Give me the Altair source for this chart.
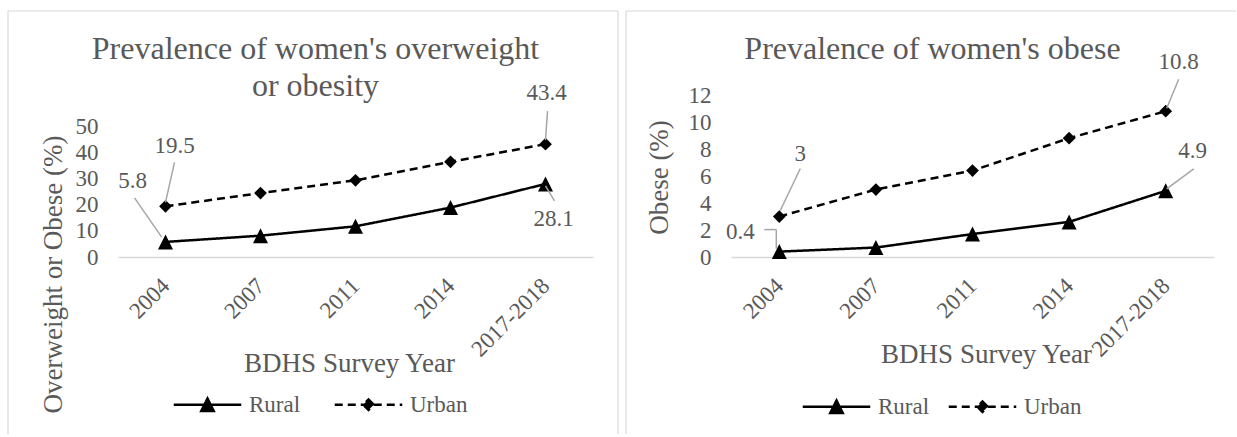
import altair as alt
import pandas as pd

# ---------------- data ----------------
years = ["2004", "2007", "2011", "2014", "2017-2018"]
series = ["Rural", "Urban"]
ow_rural = [5.8, 8.2, 11.8, 19.0, 28.1]
ow_urban = [19.5, 24.6, 29.5, 36.6, 43.4]
ob_rural = [0.4, 0.7, 1.7, 2.6, 4.9]
ob_urban = [3.0, 5.0, 6.4, 8.8, 10.8]

FONT = "Liberation Serif"
GRAY = "#595959"
LIGHT = "#d9d9d9"
LEADER = "#a6a6a6"

# chart markers
TRI = "M0,-1L1,1L-1,1Z"
DIA = "M0,-0.85L0.85,0L0,0.85L-0.85,0Z"
# legend symbols: line segment + marker
TRI_L = "M-4.5,0H4.5M0,-0.83L0.83,0.83L-0.83,0.83Z"
DIA_L = "M-4.5,0H4.5M0,-0.7L0.7,0L0,0.7L-0.7,0Z"
DASHES = [[1, 0], [8, 5]]


def frame(rural, urban):
    rows = []
    for s, vals in zip(series, [rural, urban]):
        for y, v in zip(years, vals):
            rows.append({"year": y, "series": s, "value": v})
    return pd.DataFrame(rows)


def panel(df, width, height, ydom, yvals, ytitle, title, title_offset,
          ytitle_xy, xtitle_xy, legend_xy, col_pad, border, annotations):
    xs = alt.Scale(type="point", padding=0.5)
    ys = alt.Scale(domain=ydom, nice=False, zero=True)
    x_axis = alt.Axis(
        title="BDHS Survey Year", labelAngle=-45, labelFont=FONT,
        labelFontSize=23, labelColor=GRAY, labelPadding=25, ticks=False,
        tickSize=0, domainColor=LIGHT, domainWidth=1.5, grid=False,
        labelAlign="right", labelBaseline="middle",
        titleFont=FONT, titleFontSize=27, titleColor=GRAY,
        titleFontWeight="normal", titleX=xtitle_xy[0], titleY=xtitle_xy[1],
        titleBaseline="alphabetic", titleAlign="center", labelOverlap=False,
    )
    y_axis = alt.Axis(
        values=yvals, domain=False, ticks=False, tickSize=0, grid=False,
        labelFont=FONT, labelFontSize=23, labelColor=GRAY, labelPadding=20,
        labelOverlap=False, labelBound=False,
        title=ytitle, titleFont=FONT, titleFontSize=27, titleColor=GRAY,
        titleFontWeight="normal", titleX=ytitle_xy[0], titleY=ytitle_xy[1],
        titleBaseline="middle", titleAlign="center",
    )
    # identical encodings in every layer, so axes merge cleanly
    X = alt.X("year:N", sort=years, scale=xs, axis=x_axis)
    Y = alt.Y("value:Q", scale=ys, axis=y_axis)

    leg = alt.Legend(
        orient="none", legendX=legend_xy[0], legendY=legend_xy[1],
        direction="horizontal", title=None, symbolSize=225,
        symbolStrokeWidth=2.5, labelFont=FONT, labelFontSize=23,
        labelColor=GRAY, labelOffset=30, columnPadding=col_pad, padding=0,
    )
    dash = alt.StrokeDash("series:N", scale=alt.Scale(domain=series, range=DASHES),
                          legend=leg)

    one = pd.DataFrame({"k": [0]})
    layers = []
    for (x1, x2, y1, y2) in border:
        enc = dict(x=alt.value(x1), y=alt.value(y1))
        if x2 is not None:
            enc["x2"] = alt.value(x2)
        if y2 is not None:
            enc["y2"] = alt.value(y2)
        layers.append(alt.Chart(one).mark_rule(color=LIGHT, strokeWidth=1.2).encode(**enc))

    base = alt.Chart(df)
    # invisible layer that carries the legend (line + marker symbols)
    layers.append(
        base.mark_point(filled=False, fill="black", stroke="black", strokeWidth=2.5,
                        size=0, opacity=1).encode(
            x=X, y=Y, strokeDash=dash,
            shape=alt.Shape("series:N",
                            scale=alt.Scale(domain=series, range=[TRI_L, DIA_L]),
                            legend=leg),
        )
    )
    layers.append(
        base.mark_line(color="black", strokeWidth=2.5).encode(
            x=X, y=Y, strokeDash=dash)
    )
    for ser, shp in zip(series, [TRI, DIA]):
        layers.append(
            base.transform_filter(alt.datum.series == ser)
            .mark_point(filled=True, size=225, opacity=1, color="black", shape=shp)
            .encode(x=X, y=Y)
        )
    for (yr, ser, dx, dy, leaders) in annotations:
        b = alt.Chart(df).transform_filter(
            (alt.datum.year == yr) & (alt.datum.series == ser))
        layers.append(
            b.mark_text(dx=dx, dy=dy, font=FONT, fontSize=23, color=GRAY,
                        align="center", baseline="middle").encode(
                x=X, y=Y, text=alt.Text("value:Q", format=".1~f"))
        )
        for (a1, b1, a2, b2) in leaders:
            layers.append(
                b.mark_rule(color=LEADER, strokeWidth=1.5, xOffset=a1, yOffset=b1,
                            x2Offset=a2, y2Offset=b2).encode(
                    x=X, y=Y, x2=alt.X2("year"), y2=alt.Y2("value"))
            )
    return alt.layer(*layers).properties(
        width=width, height=height,
        title=alt.TitleParams(
            text=title, font=FONT, fontSize=32, fontWeight="normal", color=GRAY,
            anchor="middle", frame="group", dx=-40, offset=title_offset,
            baseline="bottom", lineHeight=37),
    )


left = panel(
    frame(ow_rural, ow_urban), 475, 162, [0, 62.3], [0, 10, 20, 30, 40, 50],
    "Overweight or Obese (%)",
    ["Prevalence of women's overweight", "or obesity"], -124.7,
    (-65, 179), (231, 114), (78, 298), 28,
    [(-110, 500, -84, None), (-110, None, -84, 339), (500, None, -84, 339)],
    [
        ("2004", "Rural", -33, -61, [(-4, -5, -31, -44)]),
        ("2004", "Urban", 9, -60, [(0, -4, 9, -44)]),
        ("2017-2018", "Urban", 1, -51, [(0, -4, 2, -33)]),
        ("2017-2018", "Rural", 8, 35, [(0, 2, 9, 17)]),
    ],
)

right = panel(
    frame(ob_rural, ob_urban), 483, 162, [0, 12], [0, 2, 4, 6, 8, 10, 12],
    "Obese (%)",
    "Prevalence of women's obese", -87.7,
    (-72, 82), (255, 105), (94, 300), 13,
    [(-105, 505, -84, None), (-105, None, -84, 339)],
    [
        ("2004", "Urban", 21, -63, [(1, -6, 21, -48)]),
        ("2004", "Rural", -39, -20, [(-3, -3, -3, -22), (-15, -22, -3, -22)]),
        ("2017-2018", "Urban", 13, -49, [(1, -3, 13, -32)]),
        ("2017-2018", "Rural", 27, -40, [(1, -2, 28, -22)]),
    ],
)

chart = (
    alt.hconcat(left, right, spacing=6)
    .resolve_scale(shape="independent", strokeDash="independent", y="independent")
    .resolve_legend(shape="independent", strokeDash="independent")
    .properties(padding={"left": 7, "top": 10, "right": 0, "bottom": 0},
                background="white")
    .configure_view(strokeWidth=0, stroke="transparent")
    .configure_axis(labelOverlap=False)
)

chart.save("out.html", embed_options={"renderer": "svg", "actions": False})
